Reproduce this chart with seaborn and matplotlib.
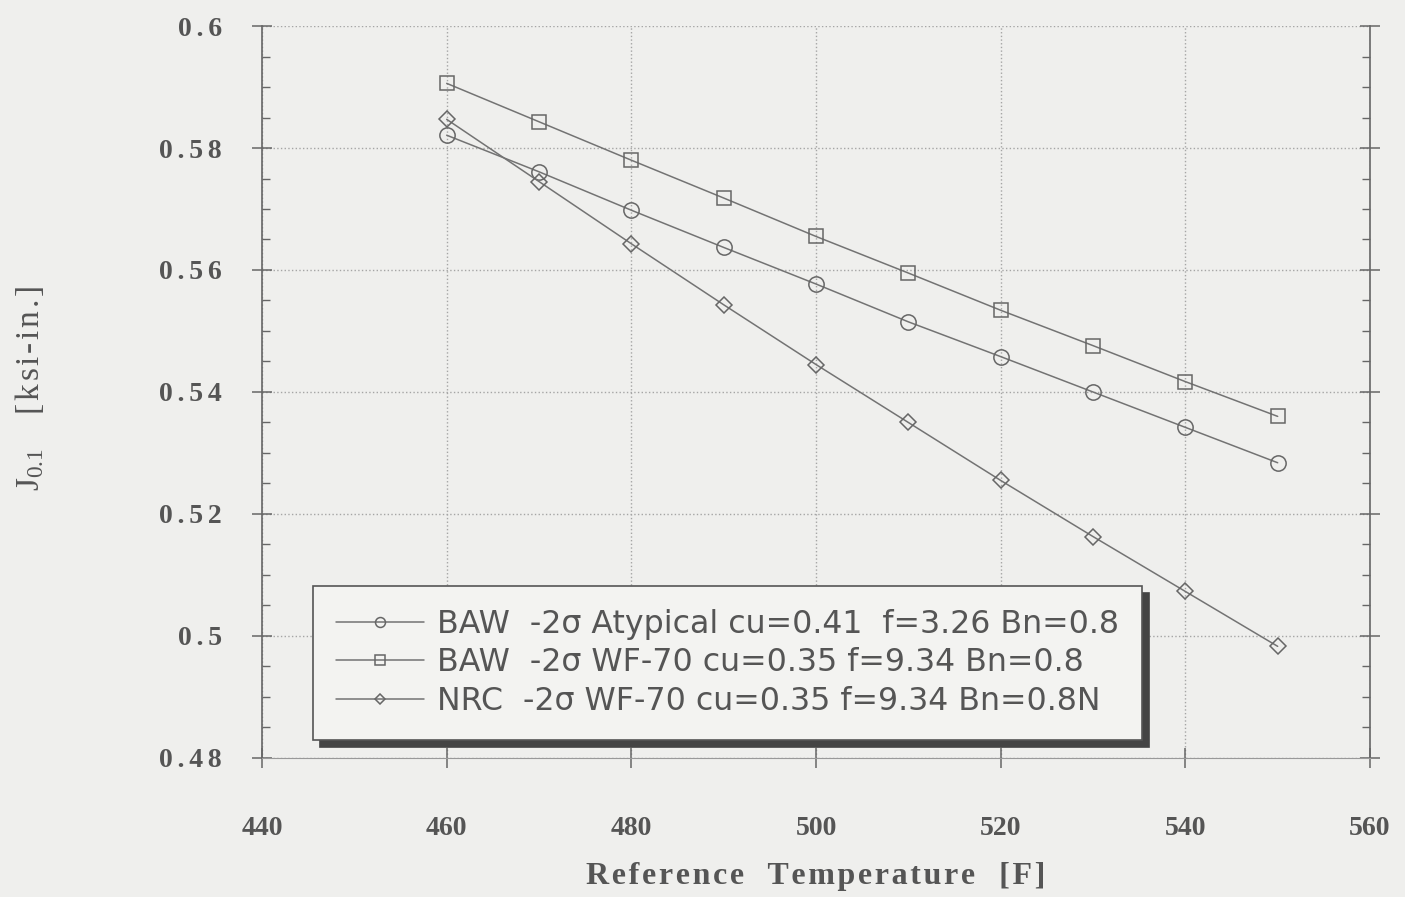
import numpy as np
import pandas as pd
import seaborn as sns
import matplotlib.pyplot as plt
from matplotlib.ticker import MultipleLocator

# data
temps = [460, 470, 480, 490, 500, 510, 520, 530, 540, 550]
baw_atypical = [0.5821, 0.5761, 0.5698, 0.5637, 0.5577, 0.5515, 0.5458, 0.5400, 0.5342, 0.5284]
baw_wf70 = [0.5906, 0.5843, 0.5780, 0.5718, 0.5655, 0.5595, 0.5534, 0.5476, 0.5417, 0.5360]
nrc_wf70 = [0.5847, 0.5745, 0.5643, 0.5543, 0.5445, 0.5350, 0.5255, 0.5163, 0.5073, 0.4983]

labels = ['BAW  -2σ Atypical cu=0.41  f=3.26 Bn=0.8',
          'BAW  -2σ WF-70 cu=0.35 f=9.34 Bn=0.8',
          'NRC  -2σ WF-70 cu=0.35 f=9.34 Bn=0.8N']
markers = ['o', 's', 'D']
msizes = [11, 10, 8.5]

xticks = [440, 460, 480, 500, 520, 540, 560]
yticks = [0.48, 0.5, 0.52, 0.54, 0.56, 0.58, 0.6]
ytick_labels = ['0.48', '0.5', '0.52', '0.54', '0.56', '0.58', '0.6']

sns.set_style('white')
plt.rcParams['mathtext.fontset'] = 'custom'
plt.rcParams['mathtext.rm'] = 'Liberation Serif'
plt.rcParams['mathtext.it'] = 'Liberation Serif'

bg = '#efefed'
line_col = '#737373'
text_col = '#555555'
serif = ['Liberation Serif', 'DejaVu Serif']


def spaced(s, gap='\u200a'):
    # the scanned labels are letter-spaced
    return gap.join(s)


fig = plt.figure(figsize=(14.05, 8.97), dpi=100, facecolor=bg)
ax = fig.add_axes([0.1865, 0.155, 0.7886, 0.816])
ax.set_facecolor(bg)

for vals, lab, m, ms in zip([baw_atypical, baw_wf70, nrc_wf70], labels, markers, msizes):
    df = pd.DataFrame({'temp': temps, 'j': vals})
    sns.lineplot(data=df, x='temp', y='j', ax=ax, color=line_col, lw=1.1,
                 marker=m, markersize=ms, markerfacecolor='none',
                 markeredgecolor='#666666', markeredgewidth=1.1, label=lab)

ax.set_xlim(440, 560)
ax.set_ylim(0.48, 0.6)
ax.set_xticks(xticks)
ax.set_yticks(yticks)
ax.set_xticklabels([str(t) for t in xticks])
ax.set_yticklabels([spaced(t, '\u200a\u200a') for t in ytick_labels])
ax.yaxis.set_minor_locator(MultipleLocator(0.005))

ax.grid(True, which='major', ls=':', lw=1.0, color='#a5a5a5')
for s in ['left', 'right', 'bottom']:
    ax.spines[s].set_visible(True)
    ax.spines[s].set_color('#666666')
    ax.spines[s].set_linewidth(1.2)
ax.spines['bottom'].set_color('#999999')
ax.spines['bottom'].set_linewidth(0.8)
ax.spines['top'].set_visible(False)

ax.tick_params(axis='both', which='major', direction='inout', length=14, width=1.1,
               color='#666666', right=True, left=True, bottom=True)
ax.tick_params(axis='y', which='minor', direction='in', length=6, width=1,
               color='#666666', right=True, left=True)
ax.tick_params(axis='x', which='major', pad=35)
ax.tick_params(axis='y', which='major', pad=22)

for t in ax.get_xticklabels() + ax.get_yticklabels():
    t.set_fontfamily(serif)
    t.set_fontweight('bold')
    t.set_fontsize(20)
    t.set_color(text_col)

ax.set_xlabel(spaced('Reference') + '   ' + spaced('Temperature') + '   ' + spaced('[F]'),
              fontfamily=serif, fontweight='bold', fontsize=23, color=text_col,
              labelpad=15)
ax.set_ylabel(r'J$_{0.1}$' + '    ' + spaced('[ksi-in.]'), fontfamily=serif,
              fontsize=24, color=text_col)
ax.yaxis.set_label_coords(-0.195, 0.505)

handles, labs = ax.get_legend_handles_labels()
leg = ax.legend(handles, labs, loc='lower left', bbox_to_anchor=(0.046, 0.025),
                borderaxespad=0, frameon=True, fancybox=False, markerscale=0.65,
                handlelength=2.8, handletextpad=0.4, labelspacing=0.24,
                borderpad=0.72, prop={'family': 'DejaVu Sans', 'size': 22.8},
                shadow={'ox': 5, 'oy': -5, 'color': '#444444', 'alpha': 1})
leg.get_frame().set_facecolor('#f3f3f1')
leg.get_frame().set_edgecolor('#555555')
leg.get_frame().set_linewidth(1.2)
leg.get_frame().set_alpha(1)
for t in leg.get_texts():
    t.set_color(text_col)

fig.savefig('out.png', dpi=100, facecolor=bg)
